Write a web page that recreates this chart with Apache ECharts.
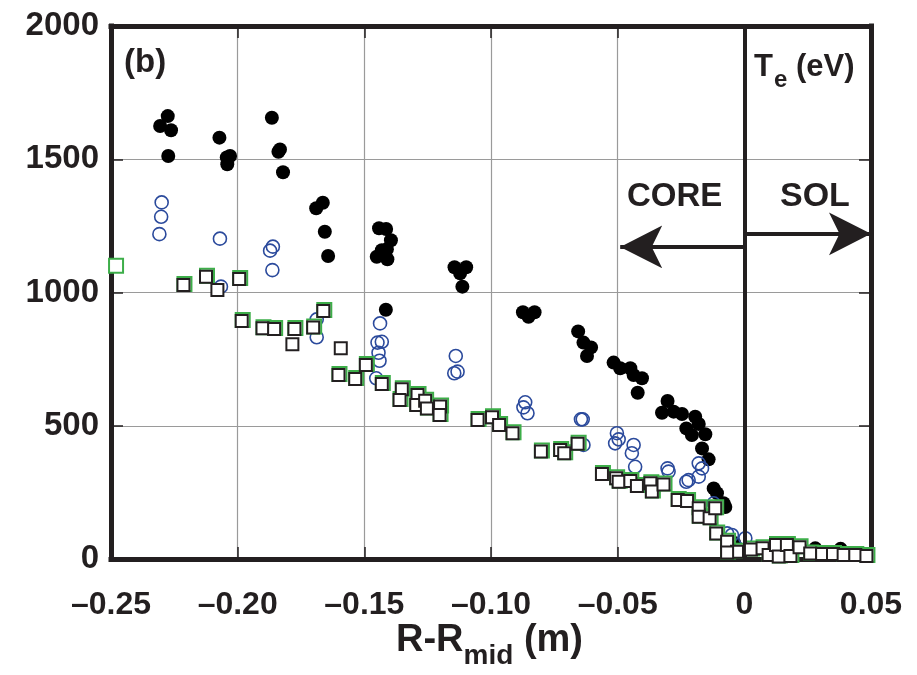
<!DOCTYPE html>
<html>
<head>
<meta charset="utf-8">
<script src="https://cdn.jsdelivr.net/npm/echarts@6/dist/echarts.min.js"></script>
<style>html,body{margin:0;padding:0;background:#fff;}#c{width:917px;height:675px;}</style>
</head>
<body>
<div id="c"></div>
<script>
// ---- data (x: R-Rmid in m, y: Te in eV) ----
var blackDots = [
  [-0.2276,1662],[-0.2306,1625],[-0.2263,1609],[-0.2274,1512],
  [-0.2072,1581],[-0.2030,1512],[-0.2043,1507],[-0.2041,1481],
  [-0.1865,1656],[-0.1833,1537],[-0.1839,1528],[-0.1821,1451],
  [-0.1664,1337],[-0.1690,1316],[-0.1656,1228],[-0.1643,1137],
  [-0.1442,1241],[-0.1414,1238],[-0.1395,1196],[-0.1411,1162],[-0.1431,1159],[-0.1451,1134],[-0.1409,1125],[-0.1415,935],
  [-0.1144,1095],[-0.1098,1095],[-0.1122,1072],[-0.1113,1022],
  [-0.0874,926],[-0.0828,926],[-0.0852,909],
  [-0.0656,854],[-0.0635,812],[-0.0605,794],[-0.0621,762],
  [-0.0516,737],[-0.0490,716],[-0.0450,716],[-0.0437,690],[-0.0404,678],[-0.0421,624],
  [-0.0303,593],[-0.0325,549],[-0.0279,553],[-0.0246,544],[-0.0194,534],[-0.0180,507],
  [-0.0229,490],[-0.0207,465],[-0.0154,468],[-0.0167,415],[-0.0141,374],
  [-0.0121,265],[-0.0108,247],[-0.0082,209],[-0.0075,195],
  [-0.0040,60],[0.0020,40],[0.0280,40],[0.0380,38]
];
var blueCircles = [
  [-0.2300,1338],[-0.2302,1284],[-0.2309,1219],[-0.2070,1202],[-0.2066,1022],
  [-0.1861,1172],[-0.1872,1157],[-0.1863,1084],[-0.1688,899],[-0.1688,832],
  [-0.1438,884],[-0.1448,812],[-0.1431,815],[-0.1444,774],[-0.1440,744],[-0.1453,678],
  [-0.1139,762],[-0.1145,697],[-0.1132,703],
  [-0.0865,588],[-0.0872,569],[-0.0856,547],
  [-0.0645,524],[-0.0638,524],[-0.0635,428],
  [-0.0503,472],[-0.0496,449],[-0.0510,434],[-0.0437,428],[-0.0444,397],[-0.0431,346],
  [-0.0303,340],[-0.0299,328],[-0.0229,290],[-0.0220,296],
  [-0.0180,359],[-0.0167,340],[-0.0180,309],
  [-0.0121,209],[-0.0068,96],[-0.0049,90],[0.0004,78]
];
var blackSquares = [
  [-0.2214,1028],[-0.2125,1059],[-0.2080,1009],[-0.1994,1051],[-0.1984,893],[-0.1902,866],[-0.1856,863],
  [-0.1776,863],[-0.1784,806],[-0.1702,869],[-0.1662,931],[-0.1593,791],[-0.1602,690],[-0.1536,675],
  [-0.1494,728],[-0.1431,657],[-0.1352,637],[-0.1361,597],[-0.1290,615],[-0.1295,578],[-0.1260,594],
  [-0.1253,565],[-0.1201,572],[-0.1203,540],[-0.1053,522],[-0.0996,532],[-0.0968,503],[-0.0915,472],
  [-0.0803,403],[-0.0727,409],[-0.0711,397],[-0.0658,432],[-0.0562,319],[-0.0506,303],[-0.0496,290],
  [-0.0450,293],[-0.0424,274],[-0.0371,284],[-0.0365,253],[-0.0319,280],[-0.0263,221],[-0.0226,218],
  [-0.0180,190],[-0.0180,159],[-0.0137,153],[-0.0115,190],[-0.0111,96],[-0.0068,65],[-0.0029,27],
  [-0.0068,24],[0.0026,36],[0.0072,40],[0.0096,15],[0.0125,53],[0.0136,9],[0.0168,53],[0.0182,11],
  [0.0218,44],[0.0260,21],[0.0307,19],[0.0350,19],[0.0392,15],[0.0438,15],[0.0482,11]
];
var greenSquares = [
  [-0.2484,1097],
  [-0.2214,1028],[-0.2125,1059],[-0.1994,1051],[-0.1984,893],[-0.1902,866],[-0.1856,863],
  [-0.1776,863],[-0.1702,869],[-0.1662,931],[-0.1602,690],[-0.1536,675],
  [-0.1494,728],[-0.1431,657],[-0.1352,637],[-0.1361,597],[-0.1290,615],[-0.1295,578],[-0.1260,594],
  [-0.1253,565],[-0.1201,572],[-0.1203,540],[-0.1053,522],[-0.0996,532],[-0.0968,503],[-0.0915,472],
  [-0.0803,403],[-0.0727,409],[-0.0711,397],[-0.0658,432],[-0.0562,319],[-0.0506,303],[-0.0496,290],
  [-0.0450,293],[-0.0424,274],[-0.0371,284],[-0.0365,253],[-0.0319,280],[-0.0263,221],[-0.0226,218],
  [-0.0180,190],[-0.0180,159],[-0.0137,153],[-0.0115,190],[-0.0111,96],[-0.0068,65],[-0.0029,27],
  [-0.0068,24],[0.0026,36],[0.0072,40],[0.0096,15],[0.0125,53],[0.0136,9],[0.0168,53],[0.0182,11],
  [0.0218,44],[0.0260,21],[0.0307,19],[0.0350,19],[0.0392,15],[0.0438,15],[0.0482,11]
];
var xTickLabels = ['\u20130.25','\u20130.20','\u20130.15','\u20130.10','\u20130.05','0','0.05'];
var yTickLabels = ['0','500','1000','1500','2000'];
var separatrixX = 0;
var coreArrow = [[0, 1171], [-0.049, 1171]];
var solArrow = [[0, 1220], [0.05, 1220]];

// ---- chart ----
var XMIN = -0.25, XMAX = 0.05, XINT = 0.05, YMIN = 0, YMAX = 2000, YINT = 500;
var FRAME = '#231f20';
var FONT = "'Liberation Sans',Arial,sans-serif";
var chart = echarts.init(document.getElementById('c'), null, {renderer: 'canvas'});

function xFmt(v) { var i = Math.round((v - XMIN) / XINT); return xTickLabels[i] || ''; }
function yFmt(v) { var i = Math.round((v - YMIN) / YINT); return yTickLabels[i] || ''; }

var tickStyle = {show: true, inside: true, length: 12, lineStyle: {color: FRAME, width: 1.5}};
var frameLine = {show: true, onZero: false, lineStyle: {color: FRAME, width: 5, cap: 'square'}};
var baseX = {type: 'value', min: XMIN, max: XMAX, interval: XINT};
var baseY = {type: 'value', min: YMIN, max: YMAX, interval: YINT};

chart.setOption({
  animation: false,
  backgroundColor: '#ffffff',
  grid: {left: 111, right: 46, top: 26, bottom: 116, show: false},
  xAxis: [
    Object.assign({}, baseX, {
      position: 'bottom',
      axisLine: frameLine,
      axisTick: tickStyle,
      splitLine: {show: true, lineStyle: {color: '#9a9a9a', width: 1.2}},
      axisLabel: {formatter: xFmt, color: FRAME, fontFamily: FONT, fontWeight: 'bold', fontSize: 32, margin: 30}
    }),
    Object.assign({}, baseX, {
      position: 'top',
      axisLine: frameLine, axisTick: tickStyle, splitLine: {show: false}, axisLabel: {show: false}
    })
  ],
  yAxis: [
    Object.assign({}, baseY, {
      position: 'left',
      axisLine: frameLine,
      axisTick: tickStyle,
      splitLine: {show: true, lineStyle: {color: '#9a9a9a', width: 1.2}},
      axisLabel: {formatter: yFmt, color: FRAME, fontFamily: FONT, fontWeight: 'bold', fontSize: 33, margin: 12}
    }),
    Object.assign({}, baseY, {
      position: 'right',
      axisLine: frameLine, axisTick: tickStyle, splitLine: {show: false}, axisLabel: {show: false}
    })
  ],
  series: [
    {
      name: 'filled', type: 'scatter', data: blackDots, symbol: 'circle', symbolSize: 14, z: 2,
      itemStyle: {color: '#000000', opacity: 1},
      markLine: {
        silent: true, animation: false, symbol: ['none', 'none'], label: {show: false},
        lineStyle: {color: FRAME, width: 4, type: 'solid', opacity: 1},
        data: [[{coord: [separatrixX, YMIN]}, {coord: [separatrixX, YMAX]}]]
      }
    },
    {
      name: 'open', type: 'scatter', data: blueCircles, symbol: 'circle', symbolSize: 13, z: 3,
      itemStyle: {color: 'rgba(255,255,255,0)', borderColor: '#2b4a9c', borderWidth: 1.6, opacity: 1},
      markLine: {
        silent: true, animation: false, symbol: ['none', 'arrow'], symbolSize: [32, 42], label: {show: false},
        lineStyle: {color: FRAME, width: 4, type: 'solid', opacity: 1},
        itemStyle: {color: FRAME},
        data: [
          [{coord: coreArrow[0]}, {coord: coreArrow[1]}],
          [{coord: solArrow[0]}, {coord: solArrow[1]}]
        ]
      }
    },
    {
      name: 'green', type: 'scatter', data: greenSquares, symbol: 'rect', symbolSize: 14, symbolOffset: [1, -1], z: 4,
      itemStyle: {color: '#ffffff', borderColor: '#3dae49', borderWidth: 2, opacity: 1}
    },
    {
      name: 'squares', type: 'scatter', data: blackSquares, symbol: 'rect', symbolSize: 12, z: 5,
      itemStyle: {color: '#ffffff', borderColor: '#231f20', borderWidth: 2, opacity: 1}
    }
  ],
  graphic: [
    {type: 'text', left: 124, top: 46, z: 10, style: {text: '(b)', font: "bold 33px 'Liberation Sans', Arial, sans-serif", fill: FRAME}},
    {type: 'text', left: 754, top: 52, z: 10, style: {
      text: '{a|T}{s|e}{a| (eV)}',
      rich: {
        a: {font: "bold 31px 'Liberation Sans', Arial, sans-serif", fill: FRAME, verticalAlign: 'top'},
        s: {font: "bold 24px 'Liberation Sans', Arial, sans-serif", fill: FRAME, verticalAlign: 'bottom', padding: [16, 0, 0, 1]}
      }
    }},
    {type: 'text', left: 627, top: 180, z: 10, style: {text: 'CORE', font: "bold 33px 'Liberation Sans', Arial, sans-serif", fill: FRAME}},
    {type: 'text', left: 780, top: 180, z: 10, style: {text: 'SOL', font: "bold 34px 'Liberation Sans', Arial, sans-serif", fill: FRAME}},
    {type: 'text', left: 396, top: 622, z: 10, style: {
      text: '{a|R-R}{s|mid}{a| (m)}',
      rich: {
        a: {font: "bold 38px 'Liberation Sans', Arial, sans-serif", fill: FRAME, verticalAlign: 'top'},
        s: {font: "bold 28px 'Liberation Sans', Arial, sans-serif", fill: FRAME, verticalAlign: 'bottom', padding: [20, 0, 0, 0]}
      }
    }}
  ]
});
</script>
</body>
</html>
